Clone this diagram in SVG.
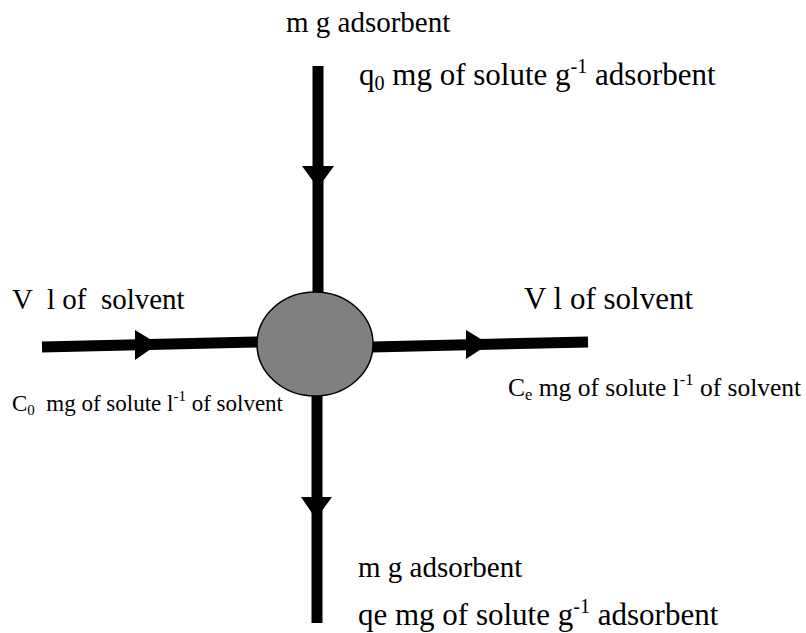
<svg xmlns="http://www.w3.org/2000/svg" width="806" height="633" viewBox="0 0 806 633">
<style>
text{font-family:"Liberation Serif","Times New Roman",serif;fill:#000}
.big{font-size:29px}
.big31{font-size:31px}
.sub{font-size:0.65em}
.line{stroke:#000;stroke-width:11;fill:none}
.head{fill:#000}
</style>
<rect width="806" height="633" fill="#fff"/>
<g id="connectors">
<line class="line" x1="318" y1="66" x2="318" y2="293"/>
<polygon class="head" points="302,166 334,166 318,188"/>
<line class="line" x1="317" y1="396" x2="317" y2="623"/>
<polygon class="head" points="301,497 332,497 316,519"/>
<line class="line" x1="42" y1="347" x2="258" y2="342"/>
<polygon class="head" points="135,330 135,360 158,344"/>
<line class="line" x1="372" y1="347" x2="588" y2="342"/>
<polygon class="head" points="466,330 466,359 489,344"/>
</g>
<g id="adsorber">
<ellipse cx="315" cy="344" rx="58" ry="52" fill="#808080" stroke="#000" stroke-width="1.5"/>
</g>
<g id="labels">
<text class="big" x="286" y="32">m g adsorbent</text>
<text class="big31" x="359" y="85">q<tspan class="sub" dy="5">0</tspan><tspan dy="-5"> mg of solute g</tspan><tspan class="sub" dy="-12">-1</tspan><tspan dy="12"> adsorbent</tspan></text>
<text class="big" x="12" y="309" font-size="29.5" xml:space="preserve">V  l of  solvent</text>
<text class="big31" x="524" y="309">V l of solvent</text>
<text x="12" y="411" font-size="23" xml:space="preserve">C<tspan class="sub" dy="4">0</tspan><tspan dy="-4">  mg of solute l</tspan><tspan class="sub" dy="-10">-1</tspan><tspan dy="10"> of solvent</tspan></text>
<text x="508" y="396" font-size="25.5">C<tspan class="sub" dy="4">e</tspan><tspan dy="-4"> mg of solute l</tspan><tspan class="sub" dy="-11">-1</tspan><tspan dy="11"> of solvent</tspan></text>
<text class="big" x="358" y="577">m g adsorbent</text>
<text class="big31" x="358" y="625">qe mg of solute g<tspan class="sub" dy="-12">-1</tspan><tspan dy="12"> adsorbent</tspan></text>
</g>
</svg>
